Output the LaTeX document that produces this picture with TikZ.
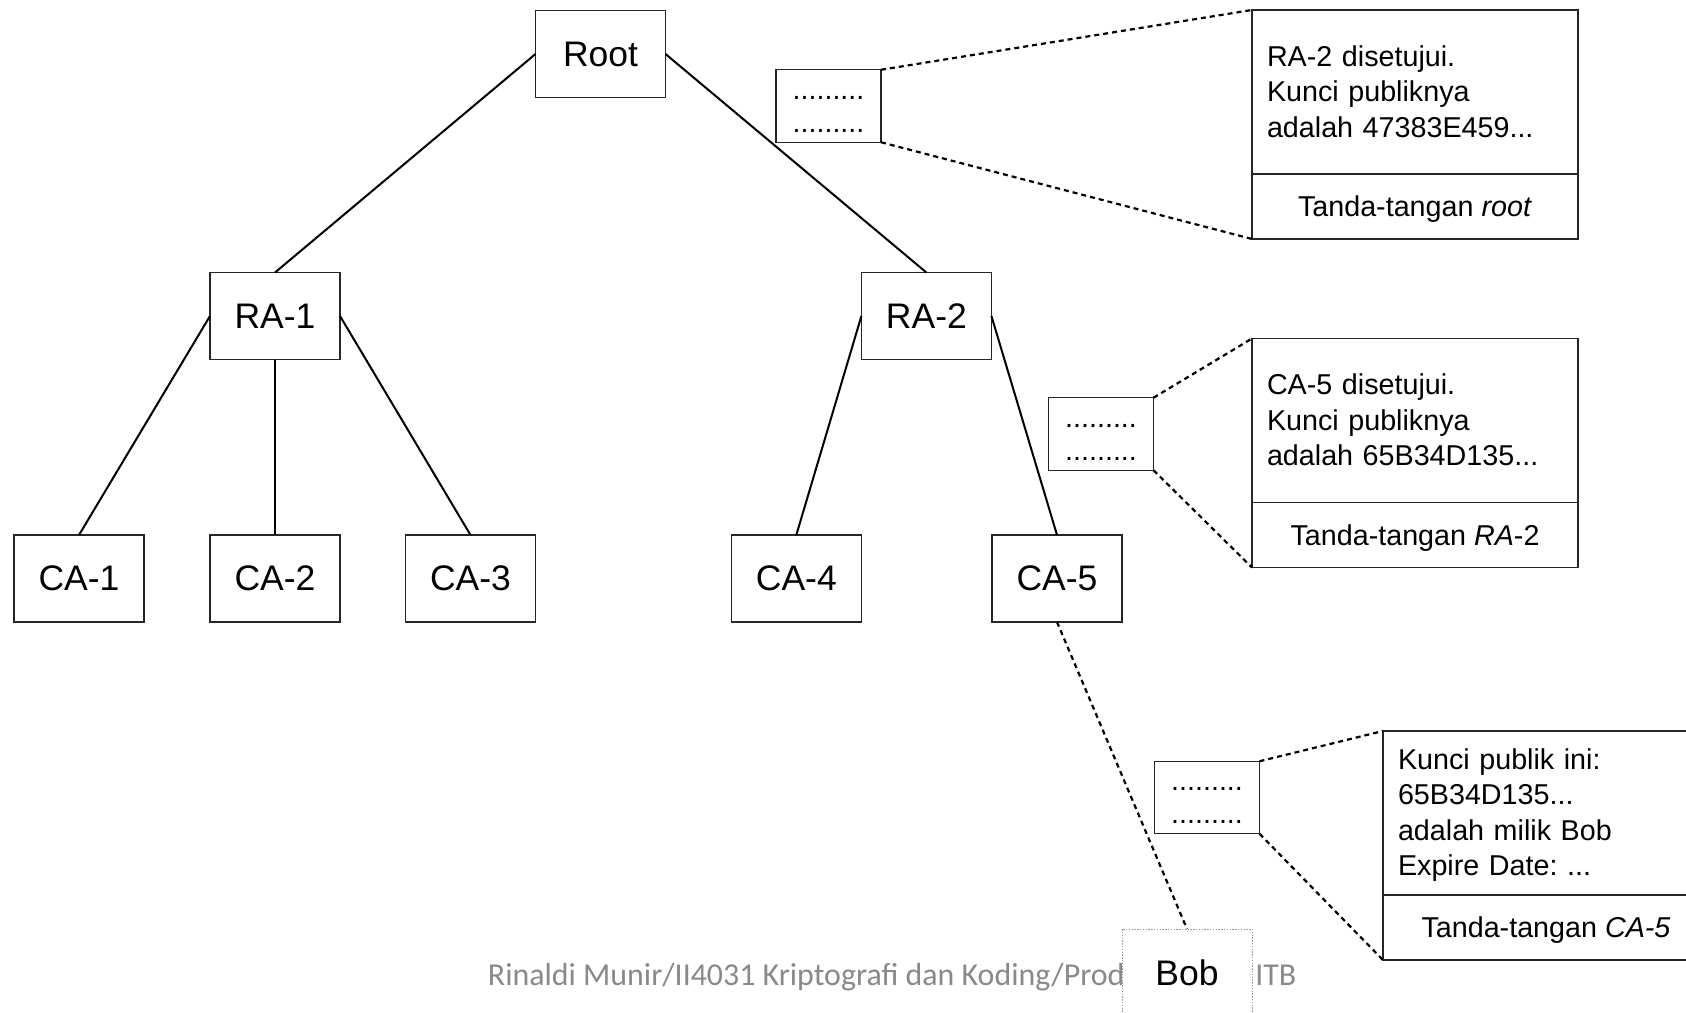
\documentclass[tikz,border=0pt]{standalone}
\usepackage{fontspec}
\setmainfont{Liberation Sans}
\newfontfamily\footfont{Carlito}
\usepackage{tikz}
\usepackage{xcolor}
\usetikzlibrary{positioning,backgrounds}
\definecolor{footgray}{RGB}{137,137,137}
\tikzset{%
  boxA/.style={draw=black!85, line width=0.6pt, minimum width=65pt, minimum height=43.5pt, inner sep=0pt, outer sep=0pt, font=\fontsize{17.75}{21}\selectfont},
  bobA/.style={boxA, draw=gray!80, line width=0.5pt, dash pattern=on 0.7pt off 0.7pt, fill=white},
  dotboxA/.style={draw=black!85, line width=0.6pt, minimum width=52.5pt, minimum height=35pt, inner sep=0pt, outer sep=0pt, align=center, font=\fontsize{14.35}{16.5}\selectfont},
  certA/.style={draw=black!85, line width=0.6pt, minimum width=163pt, minimum height=82pt, text width=148pt, inner xsep=7.5pt, inner ysep=0pt, outer sep=0pt, align=left, font=\fontsize{14.35}{17.75}\selectfont},
  signA/.style={draw=black!85, line width=0.6pt, minimum width=163pt, minimum height=32.5pt, inner sep=0pt, outer sep=0pt, text height=13pt, text depth=3pt, font=\fontsize{14.35}{17.75}\selectfont},
  treeA/.style={black, line width=1pt},
  dashA/.style={black, line width=1.1pt, dash pattern=on 2.5pt off 2pt},
  footA/.style={inner sep=0pt, text=footgray, font=\footfont\fontsize{15.95}{19}\selectfont}
}

\begin{document}
\begin{tikzpicture}[x=0.5pt,y=-0.5pt]
\useasboundingbox (0,0) rectangle (1686,1012);
\clip (0,0) rectangle (1686,1012);
% tree
\node[boxA] (root) at (600.5,54) {Root};
\node[boxA] (ra1) at (275,316) {RA-1};
\node[boxA] (ra2) at (926.4,316) {RA-2};
\node[boxA] (ca1) at (79,578.5) {CA-1};
\node[boxA] (ca2) at (275,578.5) {CA-2};
\node[boxA] (ca3) at (470.5,578.5) {CA-3};
\node[boxA] (ca4) at (796.3,578.5) {CA-4};
\node[boxA] (ca5) at (1057,578.5) {CA-5};
\node[bobA] (bob) at (1187,972.5) {Bob};
\draw[treeA] (root.west) -- (ra1.north);
\draw[treeA] (root.east) -- (ra2.north);
\draw[treeA] (ra1.west) -- (ca1.north);
\draw[treeA] (ra1.south) -- (ca2.north);
\draw[treeA] (ra1.east) -- (ca3.north);
\draw[treeA] (ra2.west) -- (ca4.north);
\draw[treeA] (ra2.east) -- (ca5.north);
\draw[dashA] (ca5.south) -- (bob.north);
% certificates
\node[dotboxA] (dots1) at (828.5,106) {\rule{0pt}{14.8pt}.........\\.........\strut};
\node[dotboxA] (dots2) at (1101,434) {\rule{0pt}{14.8pt}.........\\.........\strut};
\node[dotboxA] (dots3) at (1207,797.5) {\rule{0pt}{14.8pt}.........\\.........\strut};
\node[certA] (cert1) at (1415,92) {\rule{0pt}{15pt}RA-2 disetujui.\\Kunci publiknya\\adalah 47383E459...\strut};
\node[signA, below=0pt of cert1] (sign1) {Tanda-tangan \textit{root}};
\node[certA] (cert2) at (1415,420.5) {\rule{0pt}{15pt}CA-5 disetujui.\\Kunci publiknya\\adalah 65B34D135...\strut};
\node[signA, below=0pt of cert2] (sign2) {Tanda-tangan \textit{RA}-2};
\node[certA] (cert3) at (1546,813) {\rule{0pt}{15pt}Kunci publik ini:\\65B34D135...\\adalah milik Bob\\Expire Date:\ ...\strut};
\node[signA, below=0pt of cert3] (sign3) {Tanda-tangan \textit{CA-5}};
\draw[dashA] (dots1.north east) -- (cert1.north west);
\draw[dashA] (dots1.south east) -- (sign1.south west);
\draw[dashA] (dots2.north east) -- (cert2.north west);
\draw[dashA] (dots2.south east) -- (sign2.south west);
\draw[dashA] (dots3.north east) -- (cert3.north west);
\draw[dashA] (dots3.south east) -- (sign3.south west);
% footer
\begin{scope}[on background layer]
\fill[white] (0,0) rectangle (1686,1012);
\node[footA, anchor=base east] (footL) at ([xshift=1.5pt]bob.base west) {Rinaldi Munir/II4031 Kriptografi dan Koding/Prod};
\node[footA, anchor=base west] (footR) at ([xshift=1.5pt]bob.base east) {ITB};
\end{scope}
\end{tikzpicture}
\end{document}
